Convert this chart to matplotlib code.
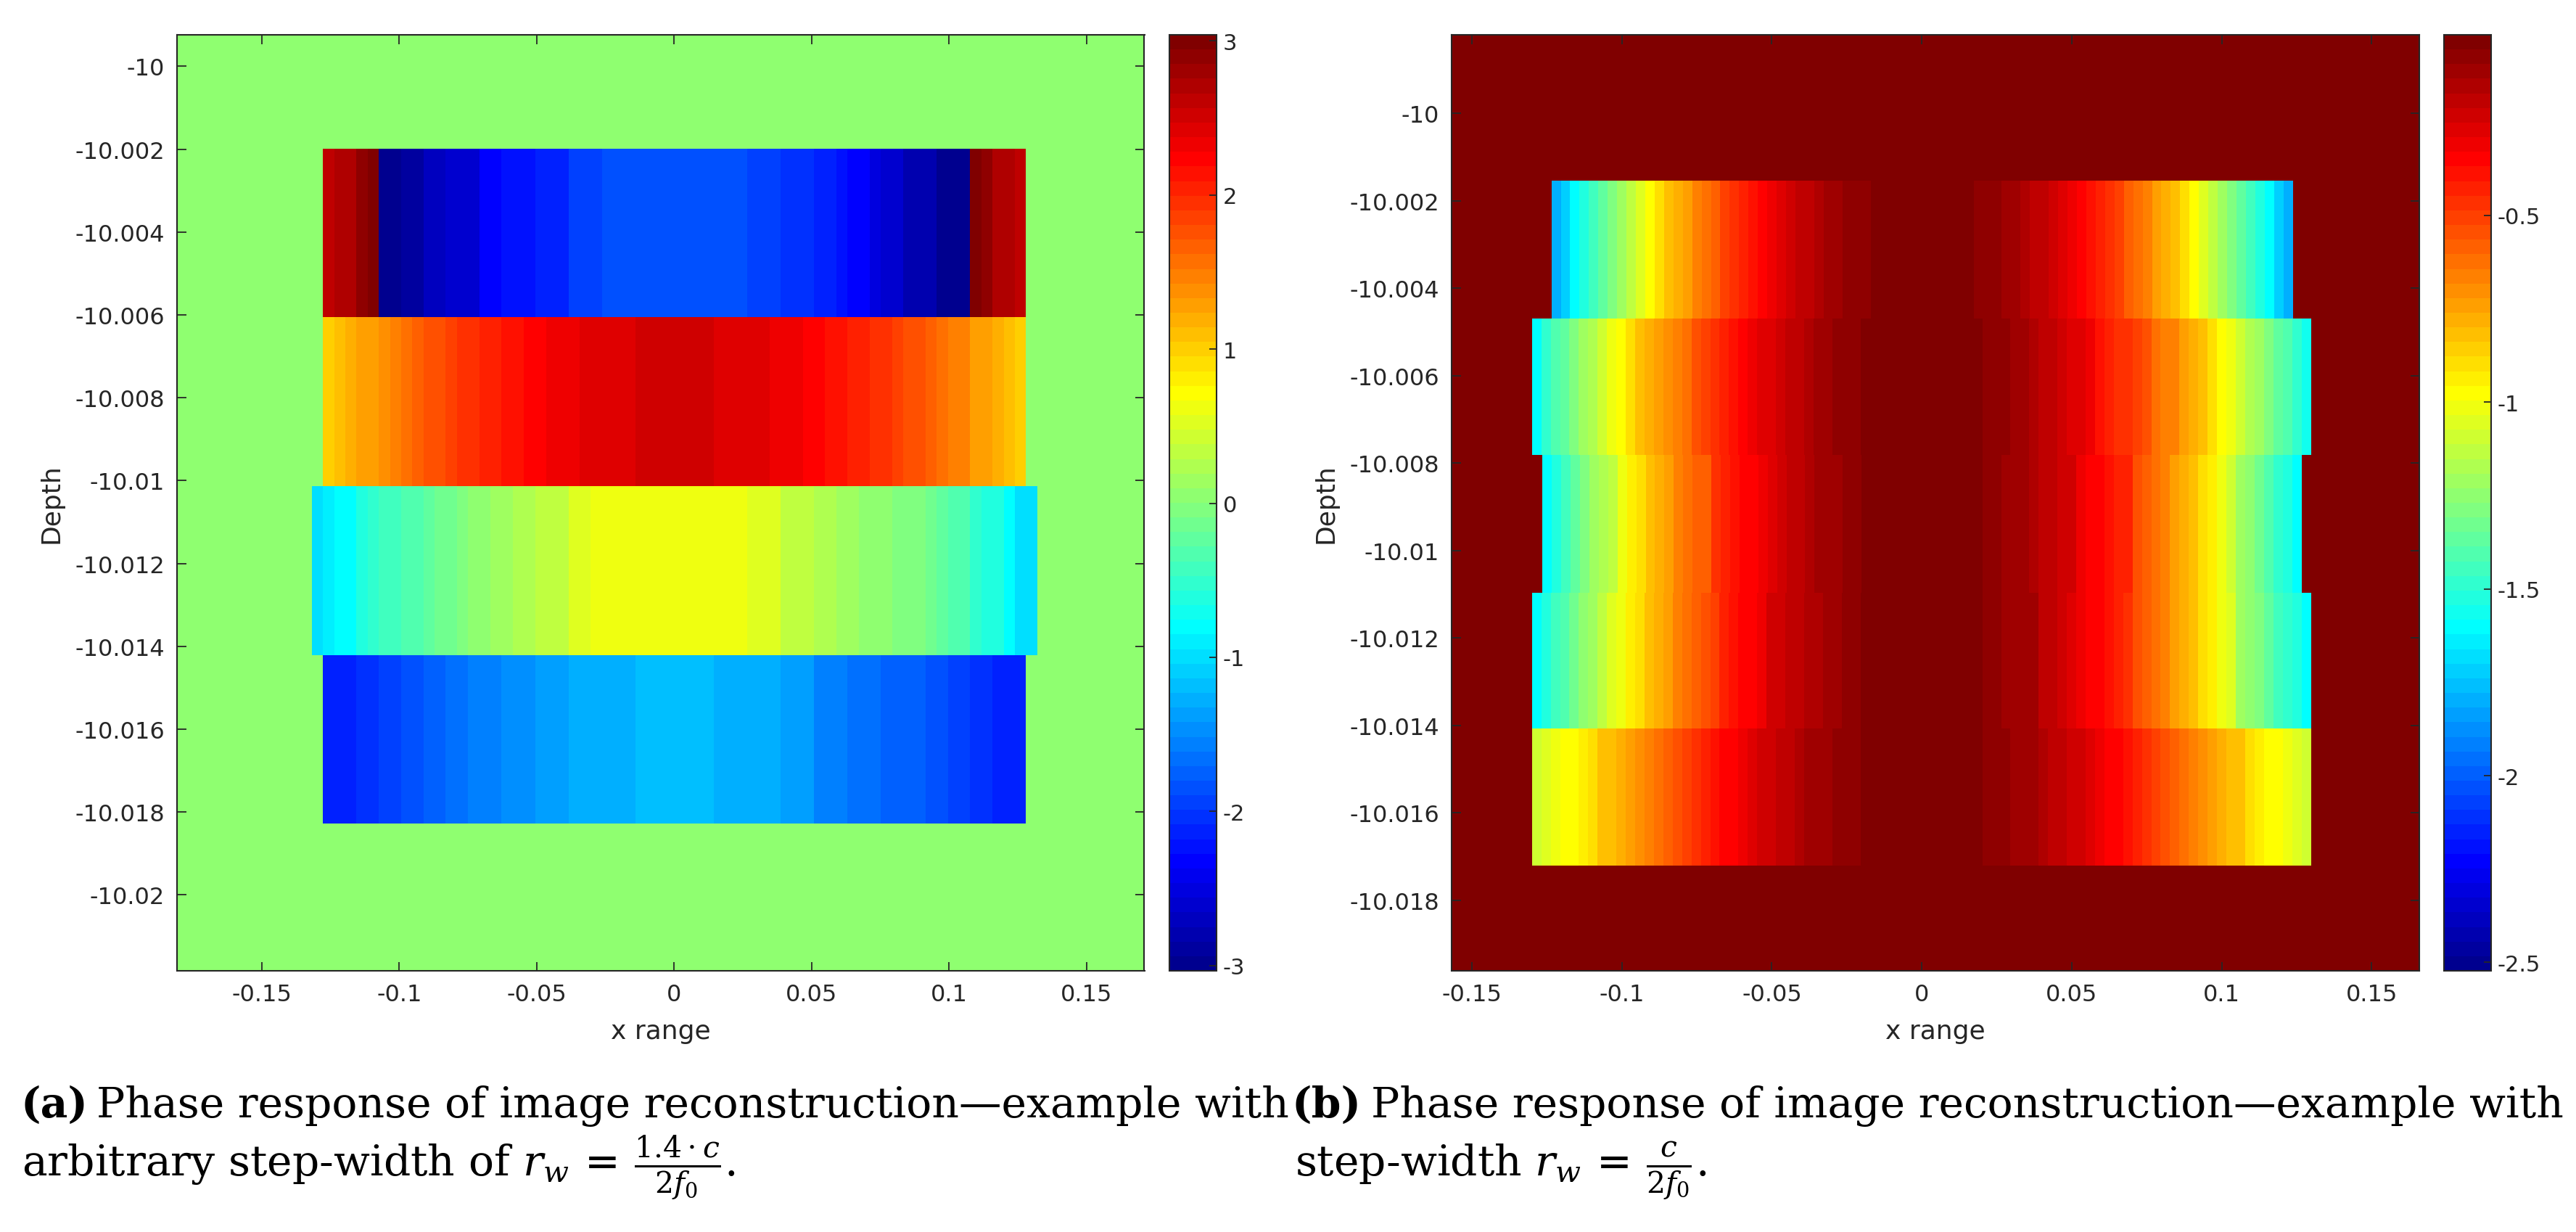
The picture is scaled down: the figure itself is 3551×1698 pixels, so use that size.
import numpy as np
import matplotlib
matplotlib.use('Agg')
import matplotlib.pyplot as plt
from matplotlib.colors import ListedColormap, Normalize
from matplotlib.cm import ScalarMappable
from matplotlib.ticker import FuncFormatter

# ---------------- (a) step-width 1.4*c/(2 f0) ----------------
# phase per image column, run-length coded (value, number of columns) per depth band
a_depth_edges = [-10.00199, -10.00606, -10.01013, -10.01421, -10.01827]
a_x_start = [-0.12775, -0.12775, -0.1318, -0.12775]
a_dx = 0.00406

a_band1_vals = [2.67, 2.8, 2.96, 3.04, -3.03, -3.0, -2.83, -2.69, -2.54, -2.3, -2.21, -2.11,
                -1.92, -1.83, -1.92, -2.0, -2.1, -2.2, -2.3, -2.45, -2.6, -2.75, -2.95, -3.03,
                3.04, 2.95, 2.8, 2.67]
a_band1_counts = [1, 2, 1, 1, 1, 1, 2, 2, 3, 2, 3, 3, 3, 13, 3, 3, 2, 1, 2, 1, 2, 3, 1, 2,
                  1, 1, 2, 1]

a_band2_vals = [1.03, 1.18, 1.28, 1.32, 1.43, 1.52, 1.61, 1.7, 1.81, 1.9, 2.0, 2.09, 2.19, 2.29,
                2.38, 2.47, 2.56, 2.47, 2.38, 2.29, 2.19, 2.09, 2.0, 1.9, 1.81, 1.7, 1.61, 1.52,
                1.32, 1.2, 1.1, 1.03]
a_band2_counts = [1, 1, 1, 2, 1, 1, 1, 1, 2, 1, 2, 2, 2, 2, 3, 5, 7, 5, 3, 2, 2, 2, 2, 1, 2, 1,
                  1, 2, 2, 1, 1, 1]

a_band3_vals = [-0.96, -0.88, -0.775, -0.58, -0.49, -0.39, -0.3, -0.25, -0.2, -0.1, -0.01, 0.09,
                0.18, 0.28, 0.42, 0.57, 0.66, 0.57, 0.42, 0.28, 0.18, 0.13, 0.05, -0.01, -0.1,
                -0.2, -0.3, -0.45, -0.58, -0.775, -0.96]
a_band3_counts = [1, 1, 2, 1, 1, 2, 1, 1, 1, 2, 1, 2, 2, 2, 3, 2, 14, 3, 3, 2, 2, 2, 1, 3, 1,
                  1, 2, 1, 2, 1, 2]

a_band4_vals = [-2.11, -2.02, -1.88, -1.78, -1.68, -1.63, -1.54, -1.44, -1.35, -1.25, -1.16,
                -1.25, -1.35, -1.5, -1.58, -1.68, -1.73, -1.83, -1.92, -2.02, -2.11]
a_band4_counts = [3, 2, 2, 2, 2, 2, 3, 3, 3, 6, 7, 6, 3, 3, 3, 2, 2, 2, 2, 2, 3]

a_background = 0.1
a_clim = (-3.035, 3.04)
a_xticks = [-0.15, -0.1, -0.05, 0, 0.05, 0.1, 0.15]
a_yticks = [-10, -10.002, -10.004, -10.006, -10.008, -10.01, -10.012, -10.014, -10.016,
            -10.018, -10.02]
a_cticks = [-3, -2, -1, 0, 1, 2, 3]
a_xlim = (-0.1809, 0.1711)
a_ylim = (-10.02183, -9.99924)

# ---------------- (b) step-width c/(2 f0) ----------------
b_depth_edges = [-10.00154, -10.00469, -10.00781, -10.01096, -10.01407, -10.01721]
b_x_start_left = [-0.1235, -0.1300, -0.1265, -0.1300, -0.1300]
b_x_start_right = [0.0173, 0.0202, 0.0202, 0.0202, 0.0202]
b_dx = 0.00313

b_band1_left_vals = [-1.776, -1.718, -1.58, -1.503, -1.424, -1.345, -1.267, -1.19, -1.11, -1.032,
                     -0.954, -0.88, -0.817, -0.759, -0.72, -0.641, -0.603, -0.563, -0.485, -0.446,
                     -0.406, -0.366, -0.328, -0.29, -0.253, -0.215, -0.172, -0.133, -0.096, -0.055]
b_band1_left_counts = [1] * 26 + [2, 1, 2, 3]
b_band1_right_vals = [-0.055, -0.096, -0.133, -0.172, -0.215, -0.253, -0.29, -0.328, -0.366,
                      -0.406, -0.446, -0.485, -0.563, -0.603, -0.641, -0.72, -0.759, -0.817, -0.88,
                      -0.954, -1.032, -1.11, -1.19, -1.267, -1.345, -1.424, -1.503, -1.58, -1.718,
                      -1.776]
b_band1_right_counts = [3, 2, 1, 2] + [1] * 26

b_band2_left_vals = [-1.58, -1.46, -1.385, -1.345, -1.267, -1.19, -1.15, -1.07, -0.99, -0.954,
                     -0.86, -0.817, -0.78, -0.72, -0.68, -0.641, -0.603, -0.524, -0.485, -0.446,
                     -0.406, -0.366, -0.328, -0.29, -0.253, -0.215, -0.172, -0.133, -0.096, -0.055]
b_band2_left_counts = [1] * 24 + [2, 1, 2, 1, 2, 3]
b_band2_right_vals = [-0.055, -0.096, -0.133, -0.172, -0.215, -0.253, -0.29, -0.366, -0.406,
                      -0.43, -0.446, -0.485, -0.524, -0.603, -0.641, -0.66, -0.72, -0.78, -0.817,
                      -0.86, -0.954, -0.99, -1.07, -1.15, -1.19, -1.267, -1.345, -1.385, -1.46,
                      -1.55]
b_band2_right_counts = [3, 2, 1, 2, 1, 2, 1] + [1] * 23

b_band3_left_vals = [-1.58, -1.503, -1.424, -1.345, -1.267, -1.19, -1.15, -1.11, -0.99, -0.92,
                     -0.88, -0.80, -0.759, -0.72, -0.641, -0.603, -0.563, -0.446, -0.406, -0.366,
                     -0.328, -0.29, -0.253, -0.215, -0.172, -0.133, -0.096, -0.055]
b_band3_left_counts = [1] * 16 + [2, 1, 1, 1, 2, 1, 1, 1, 2, 1, 3, 2]
b_band3_right_vals = [-0.055, -0.096, -0.133, -0.172, -0.215, -0.29, -0.328, -0.366, -0.406,
                      -0.524, -0.563, -0.603, -0.641, -0.72, -0.759, -0.80, -0.86, -0.92, -0.99,
                      -1.09, -1.19, -1.23, -1.306, -1.385, -1.46, -1.503, -1.58]
b_band3_right_counts = [2, 3, 1, 2, 2, 1, 2, 1, 2] + [1] * 18

b_band4_left_vals = [-1.58, -1.503, -1.424, -1.385, -1.306, -1.23, -1.19, -1.11, -1.032, -0.99,
                     -0.92, -0.88, -0.80, -0.759, -0.72, -0.641, -0.603, -0.563, -0.524, -0.485,
                     -0.406, -0.366, -0.328, -0.29, -0.215, -0.172, -0.133, -0.096, -0.055]
b_band4_left_counts = [1] * 22 + [2, 1, 2, 2, 2, 2, 2]
b_band4_right_vals = [-0.055, -0.096, -0.11, -0.172, -0.215, -0.253, -0.29, -0.328, -0.366,
                      -0.406, -0.446, -0.524, -0.563, -0.603, -0.641, -0.72, -0.759, -0.80, -0.86,
                      -0.92, -0.99, -1.032, -1.19, -1.23, -1.267, -1.345, -1.424, -1.46, -1.503,
                      -1.58]
b_band4_right_counts = [2, 2, 2, 2, 1, 1, 1, 2] + [1] * 22

b_band5_left_vals = [-1.07, -1.032, -0.99, -0.954, -0.92, -0.86, -0.817, -0.80, -0.759, -0.72,
                     -0.68, -0.641, -0.603, -0.563, -0.524, -0.485, -0.446, -0.406, -0.366,
                     -0.328, -0.29, -0.253, -0.215, -0.172, -0.133, -0.096, -0.055]
b_band5_left_counts = [1, 1, 1, 2] + [1] * 15 + [2, 1, 1, 2, 2, 1, 3, 3]
b_band5_right_vals = [-0.055, -0.096, -0.133, -0.172, -0.215, -0.253, -0.29, -0.328, -0.366,
                      -0.406, -0.446, -0.485, -0.524, -0.563, -0.603, -0.641, -0.68, -0.72,
                      -0.759, -0.80, -0.817, -0.88, -0.92, -0.954, -0.99, -1.032, -1.07]
b_band5_right_counts = [3, 3, 1, 2, 2, 1, 1, 2] + [1] * 15 + [2, 1, 1, 1]

b_background = -0.0165
b_clim = (-2.5225, -0.0165)
b_xticks = [-0.15, -0.1, -0.05, 0, 0.05, 0.1, 0.15]
b_yticks = [-10, -10.002, -10.004, -10.006, -10.008, -10.01, -10.012, -10.014, -10.016, -10.018]
b_cticks = [-2.5, -2, -1.5, -1, -0.5]
b_xlim = (-0.1568, 0.1660)
b_ylim = (-10.01961, -9.99820)

caption_a = ['Phase response of image reconstruction\u2014example with',
             r'arbitrary step-width of $r_w\,=\,\frac{1.4\cdot c}{2f_0}$.']
caption_b = ['Phase response of image reconstruction\u2014example with',
             r'step-width $r_w\,=\,\frac{c}{2f_0}$.']

# ---------------- style ----------------
plt.rcParams['font.family'] = 'DejaVu Sans'
plt.rcParams['axes.unicode_minus'] = False
plt.rcParams['mathtext.fontset'] = 'dejavuserif'

# MATLAB jet(64): piecewise-linear jet sampled at the upper edge of each of the 64 bins
nodes = [0, 1 / 8, 3 / 8, 5 / 8, 7 / 8, 1]
q = (np.arange(64) + 1) / 64
jet64 = ListedColormap(np.column_stack([
    np.interp(q, nodes, [0, 0, 0, 1, 1, 0.5]),
    np.interp(q, nodes, [0, 0, 1, 1, 0, 0]),
    np.interp(q, nodes, [0.5, 1, 1, 0, 0, 0])]), name='jet64')

W, H = 3551, 1699
fig = plt.figure(figsize=(W / 100, H / 100), dpi=100)
fig.patch.set_facecolor('white')

dark = '#262626'
fmt = FuncFormatter(lambda v, p: '%g' % v)


def half_bin(norm):
    return 0.5 * (norm.vmax - norm.vmin) / 64


def draw_band(ax, x0, dx, y_top, y_bot, vals, counts, norm):
    c = np.repeat(vals, counts) - half_bin(norm)
    xe = x0 + dx * np.arange(len(c) + 1)
    ax.pcolormesh(xe, [y_bot, y_top], c[np.newaxis, :], cmap=jet64, norm=norm,
                  shading='flat', edgecolors='none', antialiased=False)


def style_axes(ax, xticks, yticks, xlim, ylim):
    ax.set_xlim(*xlim)
    ax.set_ylim(*ylim)
    ax.set_xticks(xticks)
    ax.set_yticks(yticks)
    ax.xaxis.set_major_formatter(fmt)
    ax.yaxis.set_major_formatter(fmt)
    ax.tick_params(direction='in', top=True, right=True, length=9, width=1.3,
                   labelsize=23, colors=dark, pad=12)
    for s in ax.spines.values():
        s.set_color(dark)
        s.set_linewidth(1.5)
    ax.set_xlabel('x range', fontsize=26, color=dark)
    ax.set_ylabel('Depth', fontsize=26, color=dark)
    ax.xaxis.set_label_coords(0.5, -0.0643)
    ax.xaxis.label.set_va('center')
    ax.yaxis.set_label_coords(-0.130, 0.5)
    ax.yaxis.label.set_va('center')


def add_cbar(rect, norm, ticks):
    cax = fig.add_axes(rect)
    cb = fig.colorbar(ScalarMappable(norm=norm, cmap=jet64), cax=cax)
    cb.set_ticks(ticks)
    cb.ax.yaxis.set_major_formatter(fmt)
    cb.ax.tick_params(direction='in', length=7, width=1.3, labelsize=22, colors=dark, pad=6)
    cb.outline.set_edgecolor(dark)
    cb.outline.set_linewidth(1.5)
    return cb


# ---------------- panel (a) ----------------
norm_a = Normalize(*a_clim)
ax_a = fig.add_axes([243.9 / W, 1 - 1339 / H, 1333.6 / W, 1290 / H])
ax_a.set_facecolor(jet64(norm_a(a_background - half_bin(norm_a))))
a_vals = [a_band1_vals, a_band2_vals, a_band3_vals, a_band4_vals]
a_counts = [a_band1_counts, a_band2_counts, a_band3_counts, a_band4_counts]
for i in range(4):
    draw_band(ax_a, a_x_start[i], a_dx, a_depth_edges[i], a_depth_edges[i + 1],
              a_vals[i], a_counts[i], norm_a)
style_axes(ax_a, a_xticks, a_yticks, a_xlim, a_ylim)
add_cbar([1612.2 / W, 1 - 1339 / H, 65 / W, 1290 / H], norm_a, a_cticks)

# ---------------- panel (b) ----------------
norm_b = Normalize(*b_clim)
ax_b = fig.add_axes([2000.9 / W, 1 - 1339 / H, 1334.5 / W, 1290 / H])
ax_b.set_facecolor(jet64(norm_b(b_background - half_bin(norm_b))))
b_left = [(b_band1_left_vals, b_band1_left_counts), (b_band2_left_vals, b_band2_left_counts),
          (b_band3_left_vals, b_band3_left_counts), (b_band4_left_vals, b_band4_left_counts),
          (b_band5_left_vals, b_band5_left_counts)]
b_right = [(b_band1_right_vals, b_band1_right_counts), (b_band2_right_vals, b_band2_right_counts),
           (b_band3_right_vals, b_band3_right_counts), (b_band4_right_vals, b_band4_right_counts),
           (b_band5_right_vals, b_band5_right_counts)]
for i in range(5):
    draw_band(ax_b, b_x_start_left[i], b_dx, b_depth_edges[i], b_depth_edges[i + 1],
              b_left[i][0], b_left[i][1], norm_b)
    draw_band(ax_b, b_x_start_right[i], b_dx, b_depth_edges[i], b_depth_edges[i + 1],
              b_right[i][0], b_right[i][1], norm_b)
style_axes(ax_b, b_xticks, b_yticks, b_xlim, b_ylim)
add_cbar([3368.7 / W, 1 - 1339 / H, 65.3 / W, 1290 / H], norm_b, b_cticks)

# ---------------- captions ----------------
cap = dict(family='DejaVu Serif', fontsize=42, color='black', va='baseline', ha='left')
fig.text(29 / W, 1 - 1540 / H, '(a)', fontweight='bold', **cap)
fig.text(133 / W, 1 - 1540 / H, caption_a[0], **cap)
fig.text(30 / W, 1 - 1622 / H, caption_a[1], **cap)
fig.text(1781 / W, 1 - 1540 / H, '(b)', fontweight='bold', **cap)
fig.text(1890 / W, 1 - 1540 / H, caption_b[0], **cap)
fig.text(1785 / W, 1 - 1622 / H, caption_b[1], **cap)

fig.savefig('out.png', dpi=100, facecolor='white')
